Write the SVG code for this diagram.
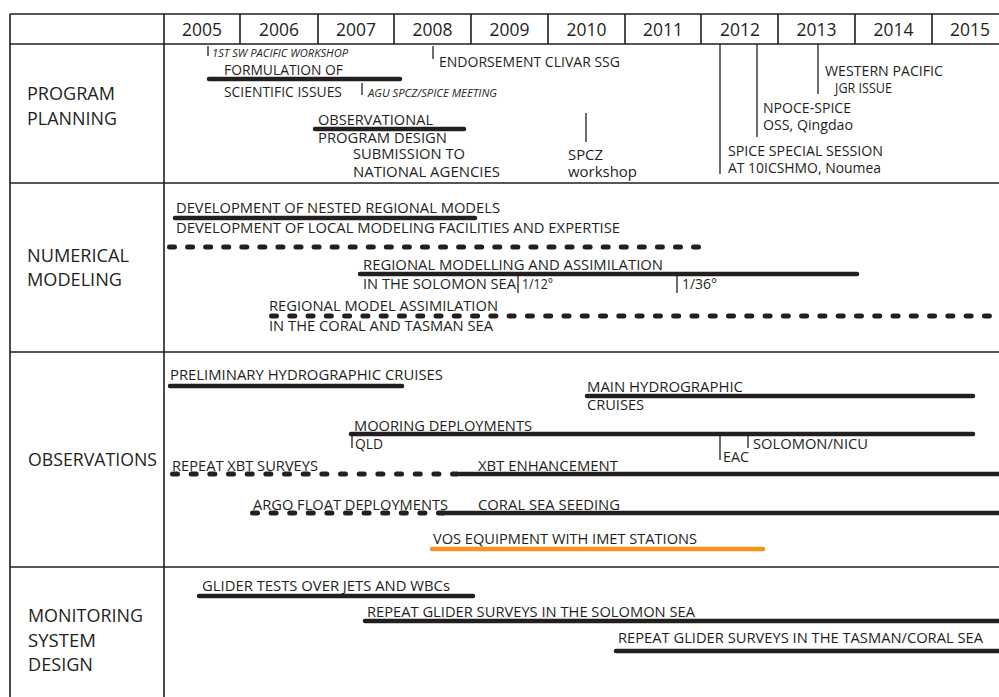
<svg xmlns="http://www.w3.org/2000/svg" width="999" height="697" viewBox="0 0 999 697">
<style>
text{font-family:"Open Sans","Liberation Sans",sans-serif;fill:#231f20}
.yr{font-size:19px;text-anchor:middle}
.lab{font-size:18.5px}
.t{font-size:14px}
.s{font-size:10.5px;font-style:italic}
.grid{stroke:#231f20;stroke-width:1.6;fill:none}
.bar{stroke:#231f20;stroke-width:4.5;stroke-linecap:round;fill:none}
.dash{stroke:#231f20;stroke-width:5;stroke-linecap:round;fill:none}
.tick{stroke:#231f20;stroke-width:1.3;fill:none}
.orange{stroke:#f7941d;stroke-width:4.5;stroke-linecap:round;fill:none}
</style>
<rect width="999" height="697" fill="#ffffff"/>
<g id="grid" class="grid">
<path d="M10 14H999M10 44H999M10 183H999M10 352H999M10 567H999"/>
<path d="M10 14V697M164 14V697"/>
<path d="M240 14V44M318 14V44M394 14V44M471 14V44M548 14V44M625 14V44M701 14V44M778 14V44M855 14V44M932 14V44"/>
</g>
<g id="years">
<text class="yr" x="202" y="35.5" textLength="40" lengthAdjust="spacingAndGlyphs">2005</text>
<text class="yr" x="279" y="35.5" textLength="40" lengthAdjust="spacingAndGlyphs">2006</text>
<text class="yr" x="356" y="35.5" textLength="40" lengthAdjust="spacingAndGlyphs">2007</text>
<text class="yr" x="432.5" y="35.5" textLength="40" lengthAdjust="spacingAndGlyphs">2008</text>
<text class="yr" x="509.5" y="35.5" textLength="40" lengthAdjust="spacingAndGlyphs">2009</text>
<text class="yr" x="586.5" y="35.5" textLength="40" lengthAdjust="spacingAndGlyphs">2010</text>
<text class="yr" x="663" y="35.5" textLength="40" lengthAdjust="spacingAndGlyphs">2011</text>
<text class="yr" x="740" y="35.5" textLength="40" lengthAdjust="spacingAndGlyphs">2012</text>
<text class="yr" x="816.5" y="35.5" textLength="40" lengthAdjust="spacingAndGlyphs">2013</text>
<text class="yr" x="893.5" y="35.5" textLength="40" lengthAdjust="spacingAndGlyphs">2014</text>
<text class="yr" x="970" y="35.5" textLength="40" lengthAdjust="spacingAndGlyphs">2015</text>
</g>
<g id="row-program-planning">
<text class="lab" x="27" y="100" textLength="88" lengthAdjust="spacingAndGlyphs">PROGRAM</text>
<text class="lab" x="27" y="125" textLength="90" lengthAdjust="spacingAndGlyphs">PLANNING</text>
</g>
<g id="row-numerical-modeling">
<text class="lab" x="27" y="262" textLength="102" lengthAdjust="spacingAndGlyphs">NUMERICAL</text>
<text class="lab" x="27" y="286" textLength="95" lengthAdjust="spacingAndGlyphs">MODELING</text>
</g>
<g id="row-observations">
<text class="lab" x="28" y="466" textLength="129" lengthAdjust="spacingAndGlyphs">OBSERVATIONS</text>
</g>
<g id="row-monitoring">
<text class="lab" x="28" y="622" textLength="115" lengthAdjust="spacingAndGlyphs">MONITORING</text>
<text class="lab" x="28" y="647" textLength="68" lengthAdjust="spacingAndGlyphs">SYSTEM</text>
<text class="lab" x="28" y="671" textLength="65" lengthAdjust="spacingAndGlyphs">DESIGN</text>
</g>
<g id="pp-sw-workshop">
<text class="s" x="212" y="57" textLength="136" lengthAdjust="spacingAndGlyphs">1ST SW PACIFIC WORKSHOP</text>
</g>
<g id="pp-formulation">
<text class="t" x="224" y="75" textLength="119" lengthAdjust="spacingAndGlyphs">FORMULATION OF</text>
<text class="t" x="224" y="97" textLength="118" lengthAdjust="spacingAndGlyphs">SCIENTIFIC ISSUES</text>
</g>
<g id="pp-agu">
<text class="s" x="368" y="97" textLength="129" lengthAdjust="spacingAndGlyphs">AGU SPCZ/SPICE MEETING</text>
</g>
<g id="pp-endorsement">
<text class="t" x="439" y="67" textLength="181" lengthAdjust="spacingAndGlyphs">ENDORSEMENT CLIVAR SSG</text>
</g>
<g id="pp-observational">
<text class="t" x="318" y="125" textLength="115" lengthAdjust="spacingAndGlyphs">OBSERVATIONAL</text>
<text class="t" x="318" y="143" textLength="129" lengthAdjust="spacingAndGlyphs">PROGRAM DESIGN</text>
</g>
<g id="pp-submission">
<text class="t" x="353" y="159" textLength="112" lengthAdjust="spacingAndGlyphs">SUBMISSION TO</text>
<text class="t" x="353" y="177" textLength="147" lengthAdjust="spacingAndGlyphs">NATIONAL AGENCIES</text>
</g>
<g id="pp-spcz">
<text class="t" x="568" y="160" textLength="35" lengthAdjust="spacingAndGlyphs">SPCZ</text>
<text class="t" x="568" y="177" textLength="69" lengthAdjust="spacingAndGlyphs">workshop</text>
</g>
<g id="pp-spice-session">
<text class="t" x="728" y="156" textLength="155" lengthAdjust="spacingAndGlyphs">SPICE SPECIAL SESSION</text>
<text class="t" x="728" y="173" textLength="153" lengthAdjust="spacingAndGlyphs">AT 10ICSHMO, Noumea</text>
</g>
<g id="pp-npoce">
<text class="t" x="763" y="113" textLength="88" lengthAdjust="spacingAndGlyphs">NPOCE-SPICE</text>
<text class="t" x="763" y="130" textLength="90" lengthAdjust="spacingAndGlyphs">OSS, Qingdao</text>
</g>
<g id="pp-jgr">
<text class="t" x="825" y="76" textLength="118" lengthAdjust="spacingAndGlyphs">WESTERN PACIFIC</text>
<text class="t" x="835" y="93" textLength="57" lengthAdjust="spacingAndGlyphs">JGR ISSUE</text>
</g>
<g id="nm-nested">
<text class="t" x="176" y="213" textLength="324" lengthAdjust="spacingAndGlyphs">DEVELOPMENT OF NESTED REGIONAL MODELS</text>
</g>
<g id="nm-local">
<text class="t" x="176" y="233" textLength="444" lengthAdjust="spacingAndGlyphs">DEVELOPMENT OF LOCAL MODELING FACILITIES AND EXPERTISE</text>
</g>
<g id="nm-solomon">
<text class="t" x="363" y="270" textLength="300" lengthAdjust="spacingAndGlyphs">REGIONAL MODELLING AND ASSIMILATION</text>
<text class="t" x="363" y="289" textLength="153" lengthAdjust="spacingAndGlyphs">IN THE SOLOMON SEA</text>
<text class="t" x="522" y="289" textLength="31" lengthAdjust="spacingAndGlyphs">1/12°</text>
<text class="t" x="682" y="289" textLength="35" lengthAdjust="spacingAndGlyphs">1/36°</text>
</g>
<g id="nm-coral">
<text class="t" x="269" y="311" textLength="229" lengthAdjust="spacingAndGlyphs">REGIONAL MODEL ASSIMILATION</text>
<text class="t" x="269" y="331" textLength="224" lengthAdjust="spacingAndGlyphs">IN THE CORAL AND TASMAN SEA</text>
</g>
<g id="ob-preliminary">
<text class="t" x="170" y="380" textLength="273" lengthAdjust="spacingAndGlyphs">PRELIMINARY HYDROGRAPHIC CRUISES</text>
</g>
<g id="ob-main">
<text class="t" x="587" y="392" textLength="156" lengthAdjust="spacingAndGlyphs">MAIN HYDROGRAPHIC</text>
<text class="t" x="587" y="410" textLength="57" lengthAdjust="spacingAndGlyphs">CRUISES</text>
</g>
<g id="ob-mooring">
<text class="t" x="354" y="431" textLength="178" lengthAdjust="spacingAndGlyphs">MOORING DEPLOYMENTS</text>
<text class="t" x="355" y="449" textLength="28" lengthAdjust="spacingAndGlyphs">QLD</text>
<text class="t" x="723" y="462" textLength="26" lengthAdjust="spacingAndGlyphs">EAC</text>
<text class="t" x="753" y="449" textLength="115" lengthAdjust="spacingAndGlyphs">SOLOMON/NICU</text>
</g>
<g id="ob-xbt">
<text class="t" x="172" y="471" textLength="146" lengthAdjust="spacingAndGlyphs">REPEAT XBT SURVEYS</text>
<text class="t" x="478" y="471" textLength="140" lengthAdjust="spacingAndGlyphs">XBT ENHANCEMENT</text>
</g>
<g id="ob-argo">
<text class="t" x="253" y="510" textLength="195" lengthAdjust="spacingAndGlyphs">ARGO FLOAT DEPLOYMENTS</text>
<text class="t" x="478" y="510" textLength="142" lengthAdjust="spacingAndGlyphs">CORAL SEA SEEDING</text>
</g>
<g id="ob-vos">
<text class="t" x="433" y="544" textLength="264" lengthAdjust="spacingAndGlyphs">VOS EQUIPMENT WITH IMET STATIONS</text>
</g>
<g id="ms-glider-tests">
<text class="t" x="202" y="591" textLength="248" lengthAdjust="spacingAndGlyphs">GLIDER TESTS OVER JETS AND WBCs</text>
</g>
<g id="ms-solomon">
<text class="t" x="367" y="617" textLength="328" lengthAdjust="spacingAndGlyphs">REPEAT GLIDER SURVEYS IN THE SOLOMON SEA</text>
</g>
<g id="ms-tasman">
<text class="t" x="618" y="643" textLength="365" lengthAdjust="spacingAndGlyphs">REPEAT GLIDER SURVEYS IN THE TASMAN/CORAL SEA</text>
</g>
<g id="connectors">
<g class="tick">
<path d="M208 46V56"/>
<path d="M362 83V95"/>
<path d="M433 46V59"/>
<path d="M586 113V142"/>
<path d="M720 44V174"/>
<path d="M757 44V137"/>
<path d="M818 44V94"/>
<path d="M518 274V293"/>
<path d="M677 274V293"/>
<path d="M352 434V448"/>
<path d="M720 434V460"/>
<path d="M748 434V448"/>
</g>
<g class="bar">
<path d="M209 79H400"/>
<path d="M315 129H464"/>
<path d="M175 218H475"/>
<path d="M360 274H857"/>
<path d="M170 386H402"/>
<path d="M587 396H973"/>
<path d="M351 434H973"/>
<path d="M460 474H1005"/>
<path d="M442 513H1005"/>
<path d="M199 596H473"/>
<path d="M365 621H1005"/>
<path d="M616 651H1005"/>
</g>
<g class="dash">
<path d="M169.5 247H698.5" stroke-dasharray="5 13.07"/>
<path d="M271.5 316H989.5" stroke-dasharray="5 13.28"/>
<path d="M172.5 474H457.5" stroke-dasharray="5 13.67"/>
<path d="M252.5 513H443.5" stroke-dasharray="5 13.6"/>
</g>
<path class="orange" d="M432 549H763"/>
</g>
</svg>
